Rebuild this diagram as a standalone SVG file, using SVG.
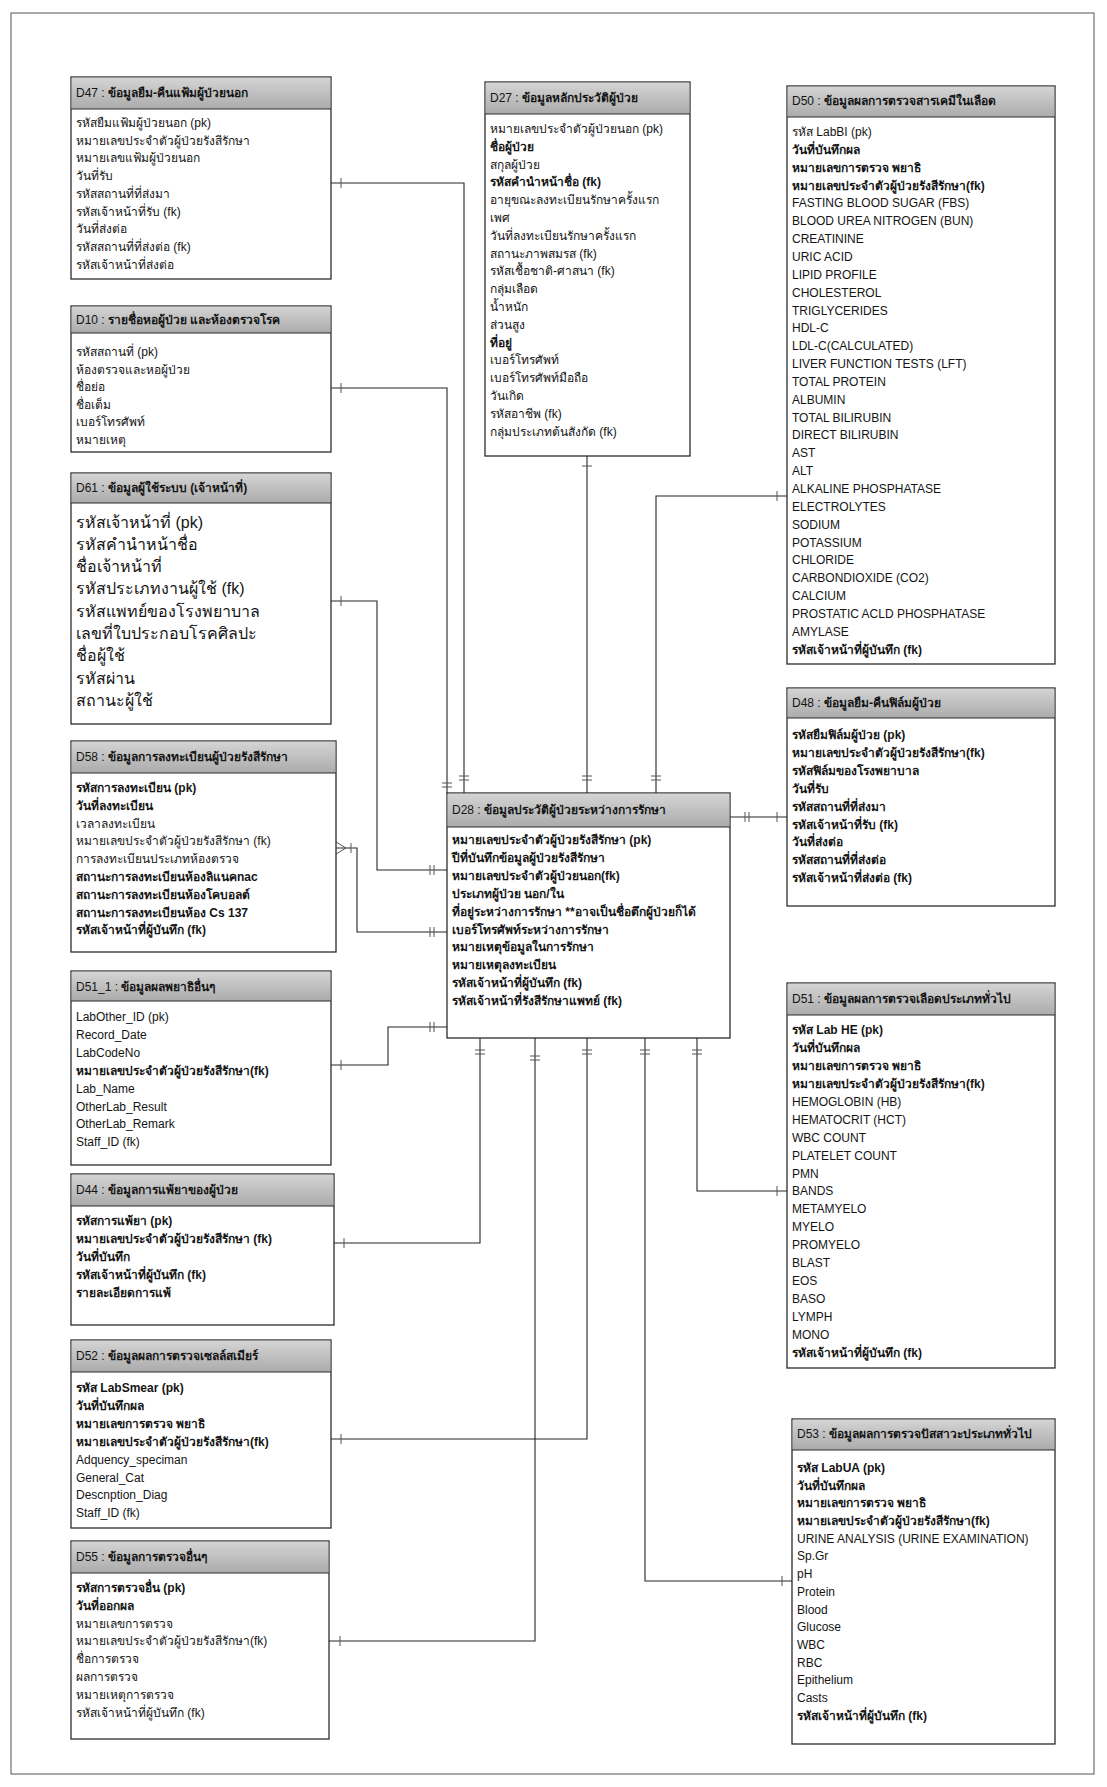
<svg xmlns="http://www.w3.org/2000/svg" width="1107" height="1787" viewBox="0 0 1107 1787">
  <defs>
    <linearGradient id="hg" x1="0" y1="0" x2="0" y2="1">
      <stop offset="0" stop-color="#d4d4d4"/>
      <stop offset="1" stop-color="#ababab"/>
    </linearGradient>
    <style>
      .box{fill:#fff;stroke:#2b2b2b;stroke-width:1.3}
      .hd{fill:url(#hg)}
      .sep{stroke:#2b2b2b;stroke-width:1.2}
      .t{font-family:"Liberation Sans","Noto Sans","DejaVu Sans",sans-serif;font-size:12px;fill:#141414}
      .b{font-weight:bold}
      .big{font-size:16px}
      .ln{fill:none;stroke:#262626;stroke-width:1.1}
      .tk{fill:none;stroke:#555;stroke-width:1}
      .frame{fill:none;stroke:#555;stroke-width:1}
    </style>
  </defs>
  <rect width="1107" height="1787" fill="#fff"/>
  <rect class="frame" x="11" y="13" width="1083" height="1761"/>

  <!-- relationships -->
  <g id="connectors">
    <path class="ln" d="M331,183 H464 V793"/>
    <path class="ln" d="M331,388 H447 V793"/>
    <path class="ln" d="M587,456 V793"/>
    <path class="ln" d="M787,496 H656 V793"/>
    <path class="ln" d="M730,817 H787"/>
    <path class="ln" d="M331,601 H377 V870 H447"/>
    <path class="ln" d="M336,848 H357 V932 H447"/>
    <path class="ln" d="M331,1065 H388 V1027 H447"/>
    <path class="ln" d="M334,1243 H480 V1038"/>
    <path class="ln" d="M329,1641 H535 V1038"/>
    <path class="ln" d="M331,1439 H587 V1038"/>
    <path class="ln" d="M792,1581 H645 V1038"/>
    <path class="ln" d="M787,1191 H697 V1038"/>
    <!-- cardinality ticks -->
    <path class="tk" d="M341,178 V188 M459,776 H469 M459,780 H469"/>
    <path class="tk" d="M341,383 V393 M442,783 H452 M442,787 H452"/>
    <path class="tk" d="M582,466 H592 M582,776 H592 M582,780 H592"/>
    <path class="tk" d="M777,491 V501 M651,776 H661 M651,780 H661"/>
    <path class="tk" d="M745,812 V822 M749,812 V822 M777,812 V822"/>
    <path class="tk" d="M341,596 V606 M430,865 V875 M434,865 V875"/>
    <path class="tk" d="M336,842 L346,848 L336,854 M351,843 V853 M430,927 V937 M434,927 V937"/>
    <path class="tk" d="M341,1060 V1070 M430,1022 V1032 M434,1022 V1032"/>
    <path class="tk" d="M344,1238 V1248 M475,1050 H485 M475,1054 H485"/>
    <path class="tk" d="M340,1636 V1646 M530,1056 H540 M530,1060 H540"/>
    <path class="tk" d="M341,1434 V1444 M582,1050 H592 M582,1054 H592"/>
    <path class="tk" d="M782,1576 V1586 M640,1050 H650 M640,1054 H650"/>
    <path class="tk" d="M777,1186 V1196 M692,1050 H702 M692,1054 H702"/>
  </g>

  <!-- D47 -->
  <g id="d47">
    <rect class="box" x="71" y="77" width="260" height="202"/>
    <rect class="hd" x="71.7" y="77.7" width="258.6" height="31.3"/>
    <line class="sep" x1="71" y1="109" x2="331" y2="109"/>
    <text class="t" x="76" y="97">D47 : <tspan class="b">ข้อมูลยืม-คืนแฟ้มผู้ป่วยนอก</tspan></text>
    <text class="t" x="76" y="127">รหัสยืมแฟ้มผู้ป่วยนอก (pk)</text>
    <text class="t" x="76" y="145">หมายเลขประจำตัวผู้ป่วยรังสีรักษา</text>
    <text class="t" x="76" y="162">หมายเลขแฟ้มผู้ป่วยนอก</text>
    <text class="t" x="76" y="180">วันที่รับ</text>
    <text class="t" x="76" y="198">รหัสสถานที่ที่ส่งมา</text>
    <text class="t" x="76" y="216">รหัสเจ้าหน้าที่รับ (fk)</text>
    <text class="t" x="76" y="233">วันที่ส่งต่อ</text>
    <text class="t" x="76" y="251">รหัสสถานที่ที่ส่งต่อ (fk)</text>
    <text class="t" x="76" y="269">รหัสเจ้าหน้าที่ส่งต่อ</text>
  </g>

  <!-- D10 -->
  <g id="d10">
    <rect class="box" x="71" y="306" width="260" height="146"/>
    <rect class="hd" x="71.7" y="306.7" width="258.6" height="26.3"/>
    <line class="sep" x1="71" y1="333" x2="331" y2="333"/>
    <text class="t" x="76" y="324">D10 : <tspan class="b">รายชื่อหอผู้ป่วย และห้องตรวจโรค</tspan></text>
    <text class="t" x="76" y="356">รหัสสถานที่ (pk)</text>
    <text class="t" x="76" y="374">ห้องตรวจและหอผู้ป่วย</text>
    <text class="t" x="76" y="391">ชื่อย่อ</text>
    <text class="t" x="76" y="409">ชื่อเต็ม</text>
    <text class="t" x="76" y="426">เบอร์โทรศัพท์</text>
    <text class="t" x="76" y="444">หมายเหตุ</text>
  </g>

  <!-- D61 -->
  <g id="d61">
    <rect class="box" x="71" y="473" width="260" height="251"/>
    <rect class="hd" x="71.7" y="473.7" width="258.6" height="29.3"/>
    <line class="sep" x1="71" y1="503" x2="331" y2="503"/>
    <text class="t" x="76" y="492">D61 : <tspan class="b">ข้อมูลผู้ใช้ระบบ (เจ้าหน้าที่)</tspan></text>
    <text class="t big" x="76" y="528">รหัสเจ้าหน้าที่ (pk)</text>
    <text class="t big" x="76" y="550">รหัสคำนำหน้าชื่อ</text>
    <text class="t big" x="76" y="572">ชื่อเจ้าหน้าที่</text>
    <text class="t big" x="76" y="594">รหัสประเภทงานผู้ใช้ (fk)</text>
    <text class="t big" x="76" y="617">รหัสแพทย์ของโรงพยาบาล</text>
    <text class="t big" x="76" y="639">เลขที่ใบประกอบโรคศิลปะ</text>
    <text class="t big" x="76" y="661">ชื่อผู้ใช้</text>
    <text class="t big" x="76" y="684">รหัสผ่าน</text>
    <text class="t big" x="76" y="706">สถานะผู้ใช้</text>
  </g>

  <!-- D58 -->
  <g id="d58">
    <rect class="box" x="71" y="741" width="265" height="211"/>
    <rect class="hd" x="71.7" y="741.7" width="263.6" height="31.3"/>
    <line class="sep" x1="71" y1="773" x2="336" y2="773"/>
    <text class="t" x="76" y="761">D58 : <tspan class="b">ข้อมูลการลงทะเบียนผู้ป่วยรังสีรักษา</tspan></text>
    <text class="t b" x="76" y="792">รหัสการลงทะเบียน (pk)</text>
    <text class="t b" x="76" y="810">วันที่ลงทะเบียน</text>
    <text class="t" x="76" y="828">เวลาลงทะเบียน</text>
    <text class="t" x="76" y="845">หมายเลขประจำตัวผู้ป่วยรังสีรักษา (fk)</text>
    <text class="t" x="76" y="863">การลงทะเบียนประเภทห้องตรวจ</text>
    <text class="t b" x="76" y="881">สถานะการลงทะเบียนห้องลิแนคnac</text>
    <text class="t b" x="76" y="899">สถานะการลงทะเบียนห้องโคบอลต์</text>
    <text class="t b" x="76" y="917">สถานะการลงทะเบียนห้อง Cs 137</text>
    <text class="t b" x="76" y="934">รหัสเจ้าหน้าที่ผู้บันทึก (fk)</text>
  </g>

  <!-- D51_1 -->
  <g id="d51_1">
    <rect class="box" x="71" y="971" width="260" height="194"/>
    <rect class="hd" x="71.7" y="971.7" width="258.6" height="29.3"/>
    <line class="sep" x1="71" y1="1001" x2="331" y2="1001"/>
    <text class="t" x="76" y="991">D51_1 : <tspan class="b">ข้อมูลผลพยาธิอื่นๆ</tspan></text>
    <text class="t" x="76" y="1021">LabOther_ID (pk)</text>
    <text class="t" x="76" y="1039">Record_Date</text>
    <text class="t" x="76" y="1057">LabCodeNo</text>
    <text class="t b" x="76" y="1075">หมายเลขประจำตัวผู้ป่วยรังสีรักษา(fk)</text>
    <text class="t" x="76" y="1093">Lab_Name</text>
    <text class="t" x="76" y="1111">OtherLab_Result</text>
    <text class="t" x="76" y="1128">OtherLab_Remark</text>
    <text class="t" x="76" y="1146">Staff_ID (fk)</text>
  </g>

  <!-- D44 -->
  <g id="d44">
    <rect class="box" x="71" y="1174" width="263" height="151"/>
    <rect class="hd" x="71.7" y="1174.7" width="261.6" height="31.3"/>
    <line class="sep" x1="71" y1="1206" x2="334" y2="1206"/>
    <text class="t" x="76" y="1194">D44 : <tspan class="b">ข้อมูลการแพ้ยาของผู้ป่วย</tspan></text>
    <text class="t b" x="76" y="1225">รหัสการแพ้ยา (pk)</text>
    <text class="t b" x="76" y="1243">หมายเลขประจำตัวผู้ป่วยรังสีรักษา (fk)</text>
    <text class="t b" x="76" y="1261">วันที่บันทึก</text>
    <text class="t b" x="76" y="1279">รหัสเจ้าหน้าที่ผู้บันทึก (fk)</text>
    <text class="t b" x="76" y="1297">รายละเอียดการแพ้</text>
  </g>

  <!-- D52 -->
  <g id="d52">
    <rect class="box" x="71" y="1340" width="260" height="188"/>
    <rect class="hd" x="71.7" y="1340.7" width="258.6" height="31.3"/>
    <line class="sep" x1="71" y1="1372" x2="331" y2="1372"/>
    <text class="t" x="76" y="1360">D52 : <tspan class="b">ข้อมูลผลการตรวจเซลล์สเมียร์</tspan></text>
    <text class="t b" x="76" y="1392">รหัส LabSmear (pk)</text>
    <text class="t b" x="76" y="1410">วันที่บันทึกผล</text>
    <text class="t b" x="76" y="1428">หมายเลขการตรวจ พยาธิ</text>
    <text class="t b" x="76" y="1446">หมายเลขประจำตัวผู้ป่วยรังสีรักษา(fk)</text>
    <text class="t" x="76" y="1464">Adquency_speciman</text>
    <text class="t" x="76" y="1482">General_Cat</text>
    <text class="t" x="76" y="1499">Descnption_Diag</text>
    <text class="t" x="76" y="1517">Staff_ID (fk)</text>
  </g>

  <!-- D55 -->
  <g id="d55">
    <rect class="box" x="71" y="1541" width="258" height="198"/>
    <rect class="hd" x="71.7" y="1541.7" width="256.6" height="31.3"/>
    <line class="sep" x1="71" y1="1573" x2="329" y2="1573"/>
    <text class="t" x="76" y="1561">D55 : <tspan class="b">ข้อมูลการตรวจอื่นๆ</tspan></text>
    <text class="t b" x="76" y="1592">รหัสการตรวจอื่น (pk)</text>
    <text class="t b" x="76" y="1610">วันที่ออกผล</text>
    <text class="t" x="76" y="1628">หมายเลขการตรวจ</text>
    <text class="t" x="76" y="1645">หมายเลขประจำตัวผู้ป่วยรังสีรักษา(fk)</text>
    <text class="t" x="76" y="1663">ชื่อการตรวจ</text>
    <text class="t" x="76" y="1681">ผลการตรวจ</text>
    <text class="t" x="76" y="1699">หมายเหตุการตรวจ</text>
    <text class="t" x="76" y="1717">รหัสเจ้าหน้าที่ผู้บันทึก (fk)</text>
  </g>

  <!-- D27 -->
  <g id="d27">
    <rect class="box" x="485" y="82" width="205" height="374"/>
    <rect class="hd" x="485.7" y="82.7" width="203.6" height="31.3"/>
    <line class="sep" x1="485" y1="114" x2="690" y2="114"/>
    <text class="t" x="490" y="102">D27 : <tspan class="b">ข้อมูลหลักประวัติผู้ป่วย</tspan></text>
    <text class="t" x="490" y="133">หมายเลขประจำตัวผู้ป่วยนอก (pk)</text>
    <text class="t b" x="490" y="151">ชื่อผู้ป่วย</text>
    <text class="t" x="490" y="169">สกุลผู้ป่วย</text>
    <text class="t b" x="490" y="186">รหัสคำนำหน้าชื่อ (fk)</text>
    <text class="t" x="490" y="204">อายุขณะลงทะเบียนรักษาครั้งแรก</text>
    <text class="t" x="490" y="222">เพศ</text>
    <text class="t" x="490" y="240">วันที่ลงทะเบียนรักษาครั้งแรก</text>
    <text class="t" x="490" y="258">สถานะภาพสมรส (fk)</text>
    <text class="t" x="490" y="275">รหัสเชื้อชาติ-ศาสนา (fk)</text>
    <text class="t" x="490" y="293">กลุ่มเลือด</text>
    <text class="t" x="490" y="311">น้ำหนัก</text>
    <text class="t" x="490" y="329">ส่วนสูง</text>
    <text class="t b" x="490" y="347">ที่อยู่</text>
    <text class="t" x="490" y="364">เบอร์โทรศัพท์</text>
    <text class="t" x="490" y="382">เบอร์โทรศัพท์มือถือ</text>
    <text class="t" x="490" y="400">วันเกิด</text>
    <text class="t" x="490" y="418">รหัสอาชีพ (fk)</text>
    <text class="t" x="490" y="436">กลุ่มประเภทต้นสังกัด (fk)</text>
  </g>

  <!-- D50 -->
  <g id="d50">
    <rect class="box" x="787" y="86" width="268" height="578"/>
    <rect class="hd" x="787.7" y="86.7" width="266.6" height="30.3"/>
    <line class="sep" x1="787" y1="117" x2="1055" y2="117"/>
    <text class="t" x="792" y="105">D50 : <tspan class="b">ข้อมูลผลการตรวจสารเคมีในเลือด</tspan></text>
    <text class="t" x="792" y="136">รหัส LabBI (pk)</text>
    <text class="t b" x="792" y="154">วันที่บันทึกผล</text>
    <text class="t b" x="792" y="172">หมายเลขการตรวจ พยาธิ</text>
    <text class="t b" x="792" y="190">หมายเลขประจำตัวผู้ป่วยรังสีรักษา(fk)</text>
    <text class="t" x="792" y="207">FASTING BLOOD SUGAR (FBS)</text>
    <text class="t" x="792" y="225">BLOOD UREA NITROGEN (BUN)</text>
    <text class="t" x="792" y="243">CREATININE</text>
    <text class="t" x="792" y="261">URIC ACID</text>
    <text class="t" x="792" y="279">LIPID PROFILE</text>
    <text class="t" x="792" y="297">CHOLESTEROL</text>
    <text class="t" x="792" y="315">TRIGLYCERIDES</text>
    <text class="t" x="792" y="332">HDL-C</text>
    <text class="t" x="792" y="350">LDL-C(CALCULATED)</text>
    <text class="t" x="792" y="368">LIVER FUNCTION TESTS (LFT)</text>
    <text class="t" x="792" y="386">TOTAL PROTEIN</text>
    <text class="t" x="792" y="404">ALBUMIN</text>
    <text class="t" x="792" y="422">TOTAL BILIRUBIN</text>
    <text class="t" x="792" y="439">DIRECT BILIRUBIN</text>
    <text class="t" x="792" y="457">AST</text>
    <text class="t" x="792" y="475">ALT</text>
    <text class="t" x="792" y="493">ALKALINE PHOSPHATASE</text>
    <text class="t" x="792" y="511">ELECTROLYTES</text>
    <text class="t" x="792" y="529">SODIUM</text>
    <text class="t" x="792" y="547">POTASSIUM</text>
    <text class="t" x="792" y="564">CHLORIDE</text>
    <text class="t" x="792" y="582">CARBONDIOXIDE (CO2)</text>
    <text class="t" x="792" y="600">CALCIUM</text>
    <text class="t" x="792" y="618">PROSTATIC ACLD PHOSPHATASE</text>
    <text class="t" x="792" y="636">AMYLASE</text>
    <text class="t b" x="792" y="654">รหัสเจ้าหน้าที่ผู้บันทึก (fk)</text>
  </g>

  <!-- D48 -->
  <g id="d48">
    <rect class="box" x="787" y="688" width="268" height="218"/>
    <rect class="hd" x="787.7" y="688.7" width="266.6" height="29.3"/>
    <line class="sep" x1="787" y1="718" x2="1055" y2="718"/>
    <text class="t" x="792" y="707">D48 : <tspan class="b">ข้อมูลยืม-คืนฟิล์มผู้ป่วย</tspan></text>
    <text class="t b" x="792" y="739">รหัสยืมฟิล์มผู้ป่วย (pk)</text>
    <text class="t b" x="792" y="757">หมายเลขประจำตัวผู้ป่วยรังสีรักษา(fk)</text>
    <text class="t b" x="792" y="775">รหัสฟิล์มของโรงพยาบาล</text>
    <text class="t b" x="792" y="793">วันที่รับ</text>
    <text class="t b" x="792" y="811">รหัสสถานที่ที่ส่งมา</text>
    <text class="t b" x="792" y="829">รหัสเจ้าหน้าที่รับ (fk)</text>
    <text class="t b" x="792" y="846">วันที่ส่งต่อ</text>
    <text class="t b" x="792" y="864">รหัสสถานที่ที่ส่งต่อ</text>
    <text class="t b" x="792" y="882">รหัสเจ้าหน้าที่ส่งต่อ (fk)</text>
  </g>

  <!-- D28 -->
  <g id="d28">
    <rect class="box" x="447" y="793" width="283" height="245"/>
    <rect class="hd" x="447.7" y="793.7" width="281.6" height="33.3"/>
    <line class="sep" x1="447" y1="827" x2="730" y2="827"/>
    <text class="t" x="452" y="814">D28 : <tspan class="b">ข้อมูลประวัติผู้ป่วยระหว่างการรักษา</tspan></text>
    <text class="t b" x="452" y="844">หมายเลขประจำตัวผู้ป่วยรังสีรักษา (pk)</text>
    <text class="t b" x="452" y="862">ปีที่บันทึกข้อมูลผู้ป่วยรังสีรักษา</text>
    <text class="t b" x="452" y="880">หมายเลขประจำตัวผู้ป่วยนอก(fk)</text>
    <text class="t b" x="452" y="898">ประเภทผู้ป่วย นอก/ใน</text>
    <text class="t b" x="452" y="916">ที่อยู่ระหว่างการรักษา **อาจเป็นชื่อตึกผู้ป่วยก็ได้</text>
    <text class="t b" x="452" y="934">เบอร์โทรศัพท์ระหว่างการรักษา</text>
    <text class="t b" x="452" y="951">หมายเหตุข้อมูลในการรักษา</text>
    <text class="t b" x="452" y="969">หมายเหตุลงทะเบียน</text>
    <text class="t b" x="452" y="987">รหัสเจ้าหน้าที่ผู้บันทึก (fk)</text>
    <text class="t b" x="452" y="1005">รหัสเจ้าหน้าที่รังสีรักษาแพทย์ (fk)</text>
  </g>

  <!-- D51 -->
  <g id="d51">
    <rect class="box" x="787" y="983" width="268" height="385"/>
    <rect class="hd" x="787.7" y="983.7" width="266.6" height="31.3"/>
    <line class="sep" x1="787" y1="1015" x2="1055" y2="1015"/>
    <text class="t" x="792" y="1003">D51 : <tspan class="b">ข้อมูลผลการตรวจเลือดประเภททั่วไป</tspan></text>
    <text class="t b" x="792" y="1034">รหัส Lab HE (pk)</text>
    <text class="t b" x="792" y="1052">วันที่บันทึกผล</text>
    <text class="t b" x="792" y="1070">หมายเลขการตรวจ พยาธิ</text>
    <text class="t b" x="792" y="1088">หมายเลขประจำตัวผู้ป่วยรังสีรักษา(fk)</text>
    <text class="t" x="792" y="1106">HEMOGLOBIN (HB)</text>
    <text class="t" x="792" y="1124">HEMATOCRIT (HCT)</text>
    <text class="t" x="792" y="1142">WBC COUNT</text>
    <text class="t" x="792" y="1160">PLATELET COUNT</text>
    <text class="t" x="792" y="1178">PMN</text>
    <text class="t" x="792" y="1195">BANDS</text>
    <text class="t" x="792" y="1213">METAMYELO</text>
    <text class="t" x="792" y="1231">MYELO</text>
    <text class="t" x="792" y="1249">PROMYELO</text>
    <text class="t" x="792" y="1267">BLAST</text>
    <text class="t" x="792" y="1285">EOS</text>
    <text class="t" x="792" y="1303">BASO</text>
    <text class="t" x="792" y="1321">LYMPH</text>
    <text class="t" x="792" y="1339">MONO</text>
    <text class="t b" x="792" y="1357">รหัสเจ้าหน้าที่ผู้บันทึก (fk)</text>
  </g>

  <!-- D53 -->
  <g id="d53">
    <rect class="box" x="792" y="1419" width="263" height="325"/>
    <rect class="hd" x="792.7" y="1419.7" width="261.6" height="30.3"/>
    <line class="sep" x1="792" y1="1450" x2="1055" y2="1450"/>
    <text class="t" x="797" y="1438">D53 : <tspan class="b">ข้อมูลผลการตรวจปัสสาวะประเภททั่วไป</tspan></text>
    <text class="t b" x="797" y="1472">รหัส LabUA (pk)</text>
    <text class="t b" x="797" y="1490">วันที่บันทึกผล</text>
    <text class="t b" x="797" y="1507">หมายเลขการตรวจ พยาธิ</text>
    <text class="t b" x="797" y="1525">หมายเลขประจำตัวผู้ป่วยรังสีรักษา(fk)</text>
    <text class="t" x="797" y="1543">URINE ANALYSIS (URINE EXAMINATION)</text>
    <text class="t" x="797" y="1560">Sp.Gr</text>
    <text class="t" x="797" y="1578">pH</text>
    <text class="t" x="797" y="1596">Protein</text>
    <text class="t" x="797" y="1614">Blood</text>
    <text class="t" x="797" y="1631">Glucose</text>
    <text class="t" x="797" y="1649">WBC</text>
    <text class="t" x="797" y="1667">RBC</text>
    <text class="t" x="797" y="1684">Epithelium</text>
    <text class="t" x="797" y="1702">Casts</text>
    <text class="t b" x="797" y="1720">รหัสเจ้าหน้าที่ผู้บันทึก (fk)</text>
  </g>
</svg>
